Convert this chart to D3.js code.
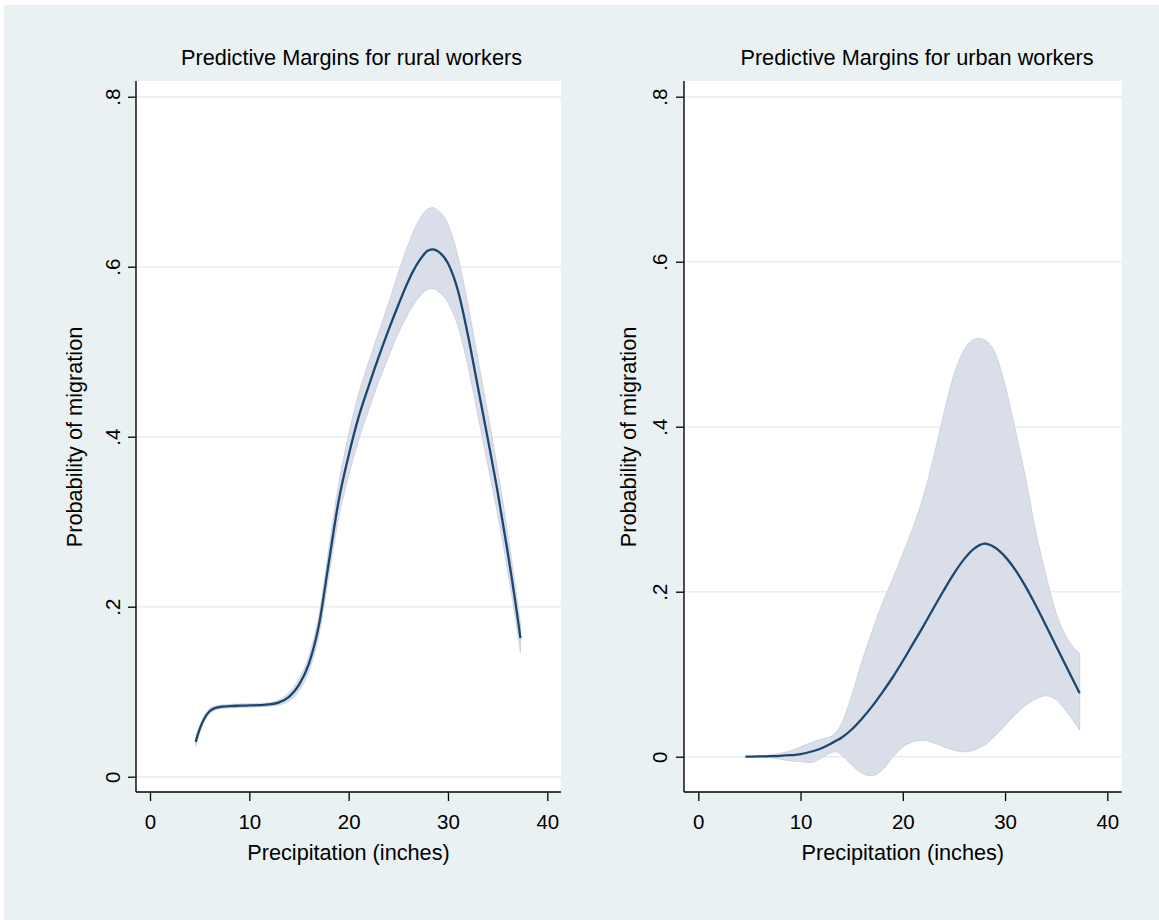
<!DOCTYPE html>
<html>
<head>
<meta charset="utf-8">
<script src="https://cdn.jsdelivr.net/npm/d3@7"></script>
<style>
  html, body { margin: 0; padding: 0; background: #ffffff; }
  svg { display: block; }
  text { font-family: "Liberation Sans", Arial, Helvetica, sans-serif; fill: #000; }
</style>
</head>
<body>
<svg id="chart" width="1159" height="920"></svg>
<script>
// Predicted probability of migration by annual precipitation (inches)

// --- rural workers ---
const precipRural = [4.6, 5.0, 5.5, 6.0, 6.5, 7, 8, 9, 10, 11, 12, 13, 14, 15, 16, 17, 18, 19, 20,
  21, 22, 23, 24, 25, 26, 27, 28, 28.5, 29, 30, 31, 32, 33, 34, 35, 36, 37, 37.3];
const ruralMargin = [0.041, 0.056, 0.069, 0.077, 0.0805, 0.082, 0.083, 0.0835, 0.0838, 0.0842, 0.085,
  0.0875, 0.094, 0.108, 0.133, 0.178, 0.252, 0.325, 0.378, 0.423, 0.459, 0.493, 0.525, 0.555, 0.583,
  0.605, 0.619, 0.6205, 0.618, 0.604, 0.572, 0.520, 0.459, 0.398, 0.335, 0.265, 0.188, 0.163];
const ruralLower = [0.036, 0.052, 0.066, 0.074, 0.078, 0.080, 0.081, 0.0815, 0.0818, 0.0822, 0.083,
  0.0845, 0.089, 0.101, 0.124, 0.166, 0.236, 0.305, 0.354, 0.396, 0.431, 0.464, 0.494, 0.522, 0.545,
  0.563, 0.5735, 0.5745, 0.571, 0.558, 0.530, 0.484, 0.426, 0.368, 0.309, 0.243, 0.170, 0.146];
const ruralUpper = [0.047, 0.060, 0.072, 0.080, 0.083, 0.084, 0.085, 0.0855, 0.0858, 0.0862, 0.087,
  0.0905, 0.099, 0.115, 0.142, 0.190, 0.268, 0.345, 0.402, 0.450, 0.487, 0.522, 0.556, 0.593, 0.626,
  0.653, 0.668, 0.6695, 0.666, 0.650, 0.612, 0.556, 0.492, 0.428, 0.361, 0.287, 0.206, 0.180];

// --- urban workers ---
const precipUrban = [4.6, 6, 7, 8, 9, 10, 11, 12, 13, 13.5, 14, 15, 16, 17, 18, 19, 20, 21, 22, 23,
  24, 25, 26, 27, 27.5, 28, 29, 30, 31, 32, 33, 34, 35, 36, 37.3];
const urbanMargin = [0.000, 0.0003, 0.0006, 0.001, 0.0018, 0.003, 0.006, 0.010, 0.016, 0.0195, 0.023,
  0.033, 0.046, 0.061, 0.078, 0.096, 0.116, 0.137, 0.158, 0.180, 0.2015, 0.222, 0.2395, 0.2525, 0.2565,
  0.2582, 0.2535, 0.2425, 0.2265, 0.2065, 0.1835, 0.159, 0.134, 0.109, 0.077];
const urbanLower = [0.000, -0.0005, -0.001, -0.003, -0.005, -0.006, -0.007, -0.002, 0.005, 0.006, 0.002,
  -0.010, -0.020, -0.023, -0.016, -0.001, 0.012, 0.018, 0.020, 0.017, 0.012, 0.008, 0.006, 0.008, 0.011,
  0.014, 0.025, 0.038, 0.051, 0.062, 0.070, 0.074, 0.069, 0.055, 0.032];
const urbanUpper = [0.000, 0.001, 0.002, 0.004, 0.007, 0.012, 0.017, 0.021, 0.025, 0.030, 0.040,
  0.074, 0.115, 0.152, 0.186, 0.215, 0.246, 0.278, 0.315, 0.362, 0.415, 0.463, 0.493, 0.506, 0.507,
  0.505, 0.490, 0.450, 0.396, 0.338, 0.273, 0.220, 0.174, 0.145, 0.125];

// --- axes ---
const xTicks = [0, 10, 20, 30, 40];
const yTicks = [0, 0.2, 0.4, 0.6, 0.8];
const yTickLabels = ["0", ".2", ".4", ".6", ".8"];
const xTitle = "Precipitation (inches)";
const yTitle = "Probability of migration";

const BG = "#eaf1f3";
const GRID = "#e6eef1";
const LINE = "#1a476f";
const BAND = "#d9dee9";
const BAND_EDGE = "#ccd3e1";
const FS = 21.7;

const svg = d3.select("#chart");

// outer graph region
svg.append("rect").attr("x", 0).attr("y", 0).attr("width", 1159).attr("height", 920).attr("fill", "#ffffff");
svg.append("rect").attr("x", 4).attr("y", 5).attr("width", 1155).attr("height", 915).attr("fill", BG);

function drawPanel(p) {
  const g = svg.append("g");
  const x = d3.scaleLinear().domain([0, 40]).range([p.x0, p.x40]);
  const y = d3.scaleLinear().domain([0, 0.8]).range([p.y0, p.y08]);

  // plot region
  g.append("rect")
    .attr("x", p.left).attr("y", p.top)
    .attr("width", p.right - p.left).attr("height", p.bottom - p.top)
    .attr("fill", "#ffffff");

  // horizontal gridlines
  g.append("g").selectAll("line").data(yTicks).join("line")
    .attr("x1", p.left).attr("x2", p.right)
    .attr("y1", d => y(d)).attr("y2", d => y(d))
    .attr("stroke", GRID).attr("stroke-width", 1.6);

  const rows = p.xs.map((v, i) => ({ x: v, m: p.mean[i], lo: p.lower[i], hi: p.upper[i] }));

  // confidence band
  const area = d3.area()
    .x(d => x(d.x)).y0(d => y(d.lo)).y1(d => y(d.hi))
    .curve(d3.curveMonotoneX);
  g.append("path").datum(rows)
    .attr("d", area)
    .attr("fill", BAND).attr("stroke", BAND_EDGE).attr("stroke-width", 1);

  // predicted margin
  const line = d3.line().x(d => x(d.x)).y(d => y(d.m)).curve(d3.curveMonotoneX);
  g.append("path").datum(rows)
    .attr("d", line)
    .attr("fill", "none").attr("stroke", LINE).attr("stroke-width", 2.3);

  // y axis
  const yAxis = g.append("g").attr("transform", `translate(${p.left},0)`)
    .call(d3.axisLeft(y).tickValues(yTicks).tickSize(8).tickSizeOuter(0)
      .tickFormat((d, i) => yTickLabels[i]));
  yAxis.select(".domain").remove();
  yAxis.selectAll(".tick line").attr("stroke", "#000").attr("stroke-width", 1.3);
  yAxis.selectAll(".tick text")
    .attr("x", null).attr("dy", null)
    .attr("text-anchor", "middle")
    .attr("dominant-baseline", "central")
    .attr("transform", `translate(${p.yLabelX - p.left},0) rotate(-90)`)
    .style("font-size", "20.5px")
    .style("font-family", "Liberation Sans, Arial, sans-serif")
    .attr("fill", "#000");
  g.append("line")
    .attr("x1", p.left).attr("x2", p.left).attr("y1", p.top).attr("y2", p.bottom)
    .attr("stroke", "#000").attr("stroke-width", 1.4);

  // x axis
  const xAxis = g.append("g").attr("transform", `translate(0,${p.bottom})`)
    .call(d3.axisBottom(x).tickValues(xTicks).tickSize(9).tickSizeOuter(0).tickPadding(10));
  xAxis.select(".domain").remove();
  xAxis.selectAll(".tick line").attr("stroke", "#000").attr("stroke-width", 1.3);
  xAxis.selectAll(".tick text")
    .attr("y", null).attr("dy", null)
    .attr("transform", "translate(0,29)")
    .attr("dominant-baseline", "central")
    .style("font-size", "20.5px")
    .style("font-family", "Liberation Sans, Arial, sans-serif")
    .attr("fill", "#000");
  g.append("line")
    .attr("x1", p.left).attr("x2", p.right).attr("y1", p.bottom).attr("y2", p.bottom)
    .attr("stroke", "#000").attr("stroke-width", 1.4);

  // titles
  g.append("text")
    .attr("x", (p.left + p.right) / 2).attr("y", 852)
    .attr("text-anchor", "middle").attr("dominant-baseline", "central")
    .style("font-size", FS + "px").text(xTitle);
  g.append("text")
    .attr("transform", `translate(${p.yTitleX},437) rotate(-90)`)
    .attr("text-anchor", "middle").attr("dominant-baseline", "central")
    .style("font-size", FS + "px").text(yTitle);
  g.append("text")
    .attr("x", p.titleX).attr("y", 57)
    .attr("text-anchor", "middle").attr("dominant-baseline", "central")
    .style("font-size", FS + "px").text(p.title);
}

drawPanel({
  title: "Predictive Margins for rural workers",
  xs: precipRural, mean: ruralMargin, lower: ruralLower, upper: ruralUpper,
  left: 136, right: 561, top: 81, bottom: 792,
  x0: 150, x40: 547.3, y0: 776.7, y08: 96.7,
  yLabelX: 112, yTitleX: 74, titleX: 351.5
});

drawPanel({
  title: "Predictive Margins for urban workers",
  xs: precipUrban, mean: urbanMargin, lower: urbanLower, upper: urbanUpper,
  left: 684, right: 1121.7, top: 81, bottom: 792,
  x0: 698.3, x40: 1107.3, y0: 756.7, y08: 96.7,
  yLabelX: 659, yTitleX: 628, titleX: 917
});
</script>
</body>
</html>
